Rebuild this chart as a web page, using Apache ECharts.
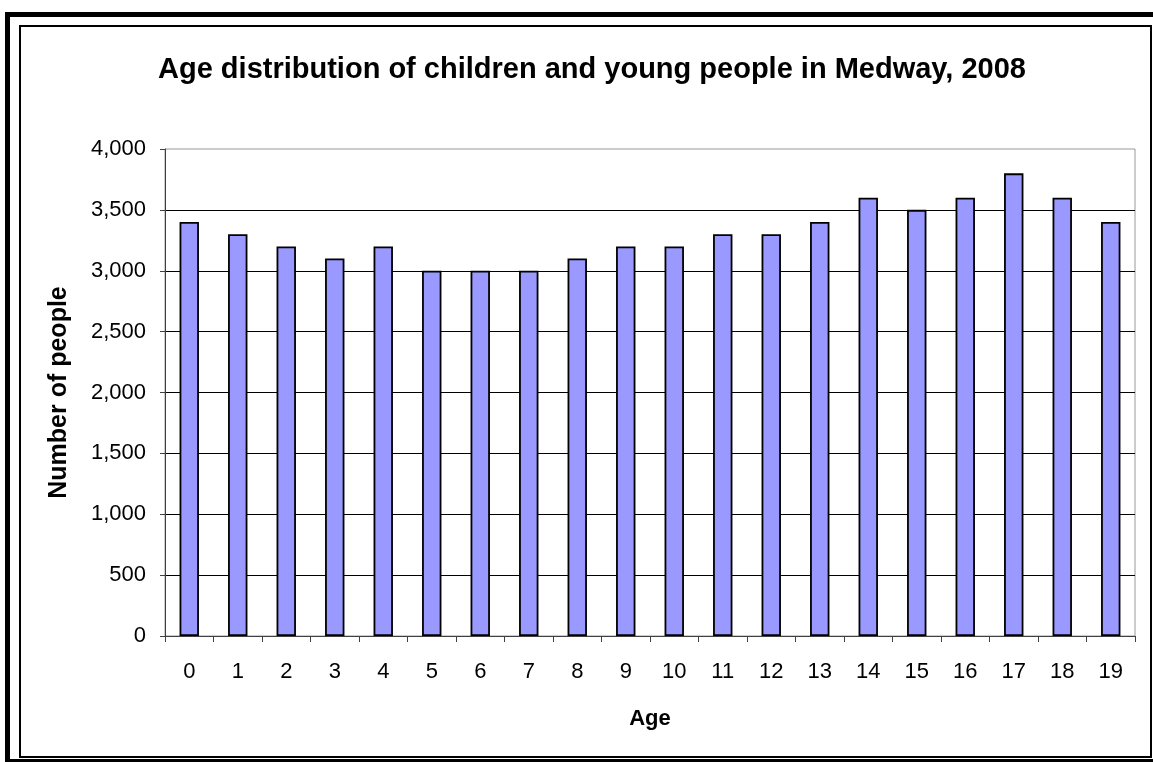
<!DOCTYPE html>
<html>
<head>
<meta charset="utf-8">
<script src="https://cdn.jsdelivr.net/npm/echarts@6/dist/echarts.min.js"></script>
<style>
html,body{margin:0;padding:0;background:#fff;}
#chart{width:1153px;height:762px;}
</style>
</head>
<body>
<div id="chart"></div>
<script>
const categories = ['0','1','2','3','4','5','6','7','8','9','10','11','12','13','14','15','16','17','18','19'];
const values = [3400,3300,3200,3100,3200,3000,3000,3000,3100,3200,3200,3300,3300,3400,3600,3500,3600,3800,3600,3400];
const titleText = 'Age distribution of children and young people in Medway, 2008';
const xName = 'Age';
const yName = 'Number of people';

const chart = echarts.init(document.getElementById('chart'), null, {renderer: 'canvas'});
const font = '"Liberation Sans", Arial, sans-serif';
const axisCol = '#404040';

chart.setOption({
  animation: false,
  backgroundColor: '#fff',
  title: {
    text: titleText,
    left: 587, top: 50, textAlign: 'center',
    textStyle: {fontFamily: font, fontWeight: 'bold', fontSize: 29, color: '#000'}
  },
  grid: {
    left: 165, top: 149, right: 18, bottom: 126,
    show: true, borderColor: '#999', borderWidth: 1, backgroundColor: 'transparent'
  },
  xAxis: {
    type: 'category',
    data: categories,
    boundaryGap: true,
    name: xName,
    nameLocation: 'middle',
    nameGap: 72,
    nameTextStyle: {fontFamily: font, fontWeight: 'bold', fontSize: 22, color: '#000'},
    axisLine: {show: true, lineStyle: {color: axisCol, width: 1}},
    axisTick: {show: true, length: 6, alignWithLabel: false, lineStyle: {color: axisCol}},
    axisLabel: {fontFamily: font, fontSize: 22, color: '#000', margin: 25, interval: 0},
    splitLine: {show: false}
  },
  yAxis: {
    type: 'value',
    min: 0, max: 4000, interval: 500,
    name: yName,
    nameLocation: 'middle',
    nameRotate: 90,
    nameGap: 93,
    nameTextStyle: {fontFamily: font, fontWeight: 'bold', fontSize: 25, color: '#000'},
    axisLine: {show: true, lineStyle: {color: axisCol, width: 1}},
    axisTick: {show: true, length: 5, lineStyle: {color: axisCol}},
    axisLabel: {
      fontFamily: font, fontSize: 22, color: '#000', margin: 19,
      formatter: v => v.toLocaleString('en-US')
    },
    splitLine: {show: true, showMinLine: false, showMaxLine: false, lineStyle: {color: '#000', width: 1}}
  },
  series: [{
    type: 'bar',
    data: values,
    barWidth: '40%',
    itemStyle: {color: '#9999FF', borderColor: '#000', borderWidth: 1.8}
  }],
  graphic: [
    {type: 'rect', shape: {x: 5, y: 12, width: 1148, height: 5}, style: {fill: '#000'}, silent: true},
    {type: 'rect', shape: {x: 5, y: 12, width: 5, height: 750}, style: {fill: '#000'}, silent: true},
    {type: 'rect', shape: {x: 5, y: 759, width: 1148, height: 3}, style: {fill: '#000'}, silent: true},
    {type: 'rect', shape: {x: 20, y: 26, width: 1131, height: 731}, style: {fill: null, stroke: '#000', lineWidth: 2}, silent: true}
  ]
});
</script>
</body>
</html>
